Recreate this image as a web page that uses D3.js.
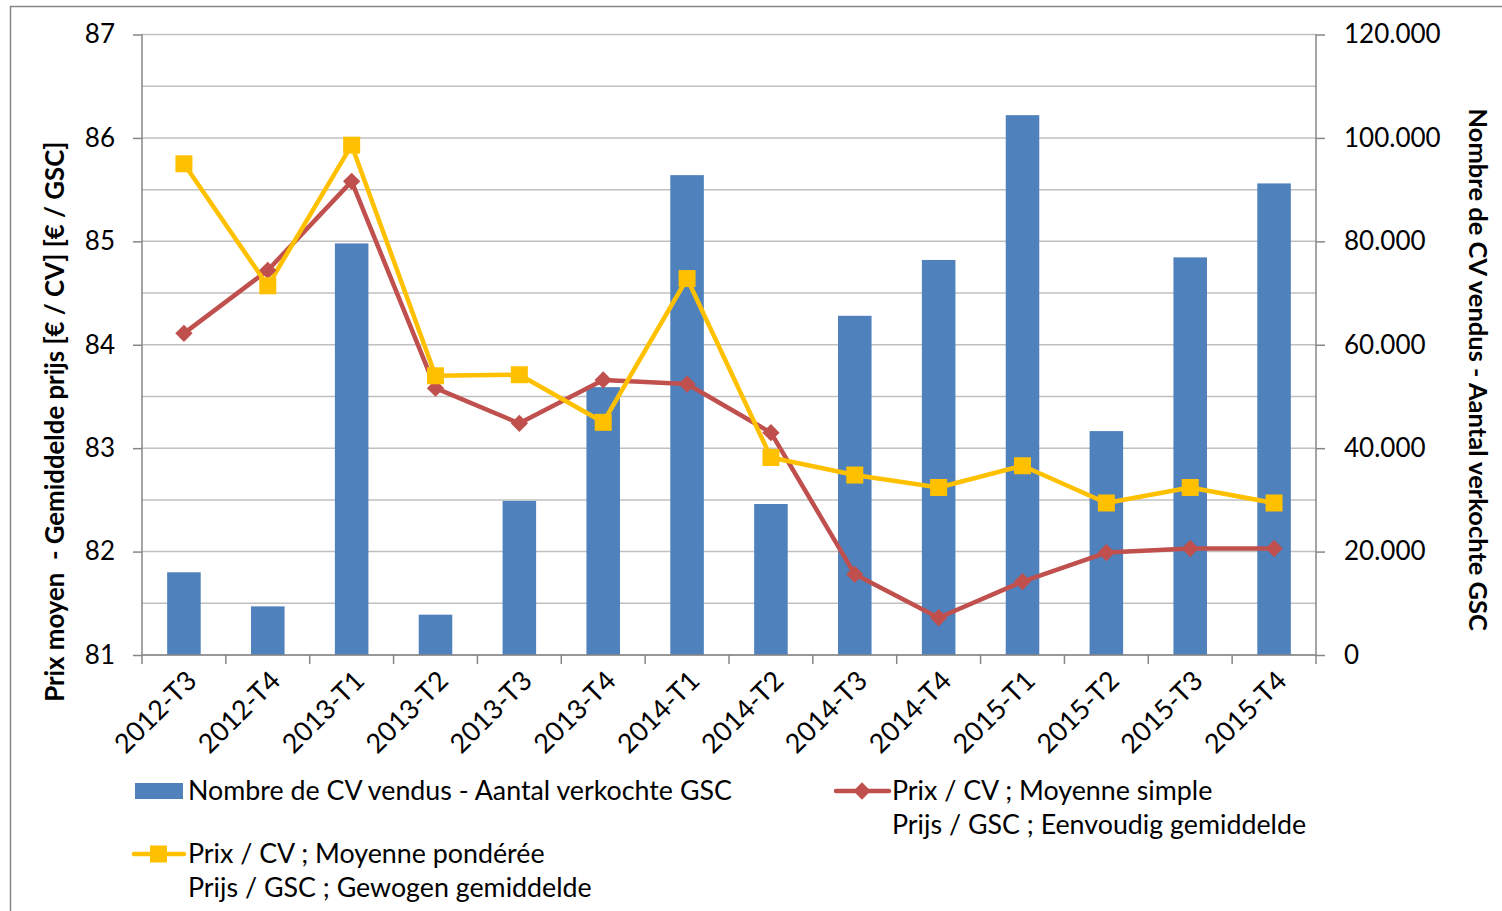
<!DOCTYPE html>
<html>
<head>
<meta charset="utf-8">
<script src="https://cdn.jsdelivr.net/npm/d3@7"></script>
<style>
  body { margin: 0; background: #fff; }
  svg { font-family: Lato, "Open Sans", sans-serif; }
</style>
</head>
<body>
<svg id="chart" width="1502" height="911"></svg>
<script>
// Data
const quarters = ["2012-T3", "2012-T4", "2013-T1", "2013-T2", "2013-T3", "2013-T4", "2014-T1",
    "2014-T2", "2014-T3", "2014-T4", "2015-T1", "2015-T2", "2015-T3", "2015-T4"];
const soldCount = [16000, 9400, 79600, 7800, 29800, 51800, 92800, 29200, 65600, 76400, 104400, 43300, 76900, 91200];
const priceSimple = [84.11, 84.72, 85.58, 83.58, 83.24, 83.66, 83.62, 83.15, 81.78, 81.36, 81.71, 81.99, 82.03, 82.03];
const priceWeighted = [85.75, 84.57, 85.93, 83.70, 83.71, 83.25, 84.64, 82.91, 82.74, 82.62, 82.83, 82.47, 82.62, 82.47];
const leftTicks = [81, 82, 83, 84, 85, 86, 87];
const rightTicks = [0, 20000, 40000, 60000, 80000, 100000, 120000];
const gridValues = [81, 81.5, 82, 82.5, 83, 83.5, 84, 84.5, 85, 85.5, 86, 86.5, 87];

const COLORS = { bar: "#4f81bd", simple: "#c0504d", weighted: "#ffc000", grid: "#c0c0c0", axis: "#868686" };

// plot area
const plotLeft = 142, plotRight = 1316, plotTop = 34.5, plotBottom = 655;

const svg = d3.select("#chart");

// outer chart border
svg.append("rect")
    .attr("x", 10.5).attr("y", 6.5)
    .attr("width", 1520).attr("height", 960)
    .attr("fill", "none").attr("stroke", COLORS.axis).attr("stroke-width", 1.5);

const x = d3.scaleBand().domain(quarters).range([plotLeft, plotRight]).paddingInner(0.6).paddingOuter(0.3);
const slot = d3.scaleBand().domain(quarters).range([plotLeft, plotRight]).padding(0);
const yLeft = d3.scaleLinear().domain([81, 87]).range([plotBottom, plotTop]);
const yRight = d3.scaleLinear().domain([0, 120000]).range([plotBottom, plotTop]);
const cx = (d) => slot(d) + slot.bandwidth() / 2;

// gridlines
svg.append("g")
    .selectAll("line")
    .data(gridValues)
    .enter()
    .append("line")
    .attr("x1", plotLeft).attr("x2", plotRight)
    .attr("y1", d => yLeft(d)).attr("y2", d => yLeft(d))
    .attr("stroke", COLORS.grid).attr("stroke-width", 1.5);

// bars
svg.append("g")
    .selectAll("rect")
    .data(soldCount)
    .enter()
    .append("rect")
    .attr("x", (d, i) => x(quarters[i]))
    .attr("width", x.bandwidth())
    .attr("y", d => yRight(d))
    .attr("height", d => plotBottom - yRight(d))
    .attr("fill", COLORS.bar);

// axes
const fmtRight = (d) => d === 0 ? "0" : d3.format(",")(d).replace(/,/g, ".");

const axisLeft = svg.append("g")
    .attr("transform", `translate(${plotLeft},0)`)
    .call(d3.axisLeft(yLeft).tickValues(leftTicks).tickSize(9).tickPadding(18).tickFormat(d3.format("d")));
const axisRight = svg.append("g")
    .attr("transform", `translate(${plotRight},0)`)
    .call(d3.axisRight(yRight).tickValues(rightTicks).tickSize(9).tickPadding(19).tickFormat(fmtRight));
const axisBottom = svg.append("g")
    .attr("transform", `translate(0,${plotBottom})`)
    .call(d3.axisBottom(slot).tickSize(0).tickFormat(""));

[axisLeft, axisRight, axisBottom].forEach(g => {
    g.select(".domain").attr("stroke", COLORS.axis).attr("stroke-width", 1.5);
    g.selectAll(".tick line").attr("stroke", COLORS.axis).attr("stroke-width", 1.5);
    g.selectAll("text").attr("font-size", 26).attr("fill", "#000").attr("font-family", "Lato, sans-serif");
});
axisLeft.select(".domain").attr("d", `M0,${plotTop}V${plotBottom}`);
axisRight.select(".domain").attr("d", `M0,${plotTop}V${plotBottom}`);
axisBottom.select(".domain").attr("d", `M${plotLeft},0H${plotRight}`);

// category boundary ticks on the x axis
axisBottom.append("g")
    .selectAll("line")
    .data(quarters.concat(["end"]))
    .enter()
    .append("line")
    .attr("x1", (d, i) => plotLeft + i * slot.step()).attr("x2", (d, i) => plotLeft + i * slot.step())
    .attr("y1", 0).attr("y2", 9)
    .attr("stroke", COLORS.axis).attr("stroke-width", 1.5);

// rotated category labels
svg.append("g")
    .selectAll("text")
    .data(quarters)
    .enter()
    .append("text")
    .attr("transform", d => `translate(${cx(d) + 1},${plotBottom + 14}) rotate(-45)`)
    .attr("text-anchor", "end")
    .attr("dy", "0.7em")
    .attr("font-size", 27)
    .text(d => d);

// axis titles
svg.append("text")
    .attr("transform", `translate(55,${(plotTop + plotBottom) / 2 + 77}) rotate(-90)`)
    .attr("text-anchor", "middle")
    .attr("dy", "0.35em")
    .attr("font-size", 25.8)
    .attr("font-weight", "bold")
    .attr("xml:space", "preserve")
    .text("Prix moyen  - Gemiddelde prijs [€ / CV] [€ / GSC]");

svg.append("text")
    .attr("transform", `translate(1478,${(plotTop + plotBottom) / 2 + 25}) rotate(90)`)
    .attr("text-anchor", "middle")
    .attr("dy", "0.35em")
    .attr("font-size", 25.5)
    .attr("font-weight", "bold")
    .text("Nombre de CV vendus - Aantal verkochte GSC");

// lines + markers
const line = d3.line().x((d, i) => cx(quarters[i])).y(d => yLeft(d));

svg.append("path")
    .datum(priceSimple)
    .attr("d", line)
    .attr("fill", "none")
    .attr("stroke", COLORS.simple)
    .attr("stroke-width", 4.5)
    .attr("stroke-linejoin", "round");

svg.append("path")
    .datum(priceWeighted)
    .attr("d", line)
    .attr("fill", "none")
    .attr("stroke", COLORS.weighted)
    .attr("stroke-width", 4.5)
    .attr("stroke-linejoin", "round");

const diamond = d3.symbol().type(d3.symbolSquare).size(150);
svg.append("g")
    .selectAll("path")
    .data(priceSimple)
    .enter()
    .append("path")
    .attr("d", diamond)
    .attr("transform", (d, i) => `translate(${cx(quarters[i])},${yLeft(d)}) rotate(45)`)
    .attr("fill", COLORS.simple);

svg.append("g")
    .selectAll("rect")
    .data(priceWeighted)
    .enter()
    .append("rect")
    .attr("x", (d, i) => cx(quarters[i]) - 8.5)
    .attr("y", d => yLeft(d) - 8.5)
    .attr("width", 17).attr("height", 17)
    .attr("fill", COLORS.weighted);

// legend
const legend = svg.append("g").attr("font-size", 26.8);

legend.append("rect")
    .attr("x", 135).attr("y", 783).attr("width", 48).attr("height", 16)
    .attr("fill", COLORS.bar);
legend.append("text").attr("x", 188).attr("y", 791).attr("dy", "0.35em")
    .text("Nombre de CV vendus - Aantal verkochte GSC");

legend.append("line")
    .attr("x1", 836).attr("x2", 889).attr("y1", 791).attr("y2", 791)
    .attr("stroke", COLORS.simple).attr("stroke-width", 4.5).attr("stroke-linecap", "round");
legend.append("path")
    .attr("d", diamond)
    .attr("transform", "translate(862,791) rotate(45)")
    .attr("fill", COLORS.simple);
legend.append("text").attr("x", 892).attr("y", 791).attr("dy", "0.35em")
    .text("Prix / CV ; Moyenne simple");
legend.append("text").attr("x", 892).attr("y", 825).attr("dy", "0.35em")
    .text("Prijs / GSC ; Eenvoudig gemiddelde");

legend.append("line")
    .attr("x1", 134).attr("x2", 184).attr("y1", 854).attr("y2", 854)
    .attr("stroke", COLORS.weighted).attr("stroke-width", 4.5).attr("stroke-linecap", "round");
legend.append("rect")
    .attr("x", 150).attr("y", 845.5).attr("width", 17).attr("height", 17)
    .attr("fill", COLORS.weighted);
legend.append("text").attr("x", 188).attr("y", 854).attr("dy", "0.35em")
    .text("Prix / CV ; Moyenne pondérée");
legend.append("text").attr("x", 188).attr("y", 888).attr("dy", "0.35em")
    .text("Prijs / GSC ; Gewogen gemiddelde");
</script>
</body>
</html>
